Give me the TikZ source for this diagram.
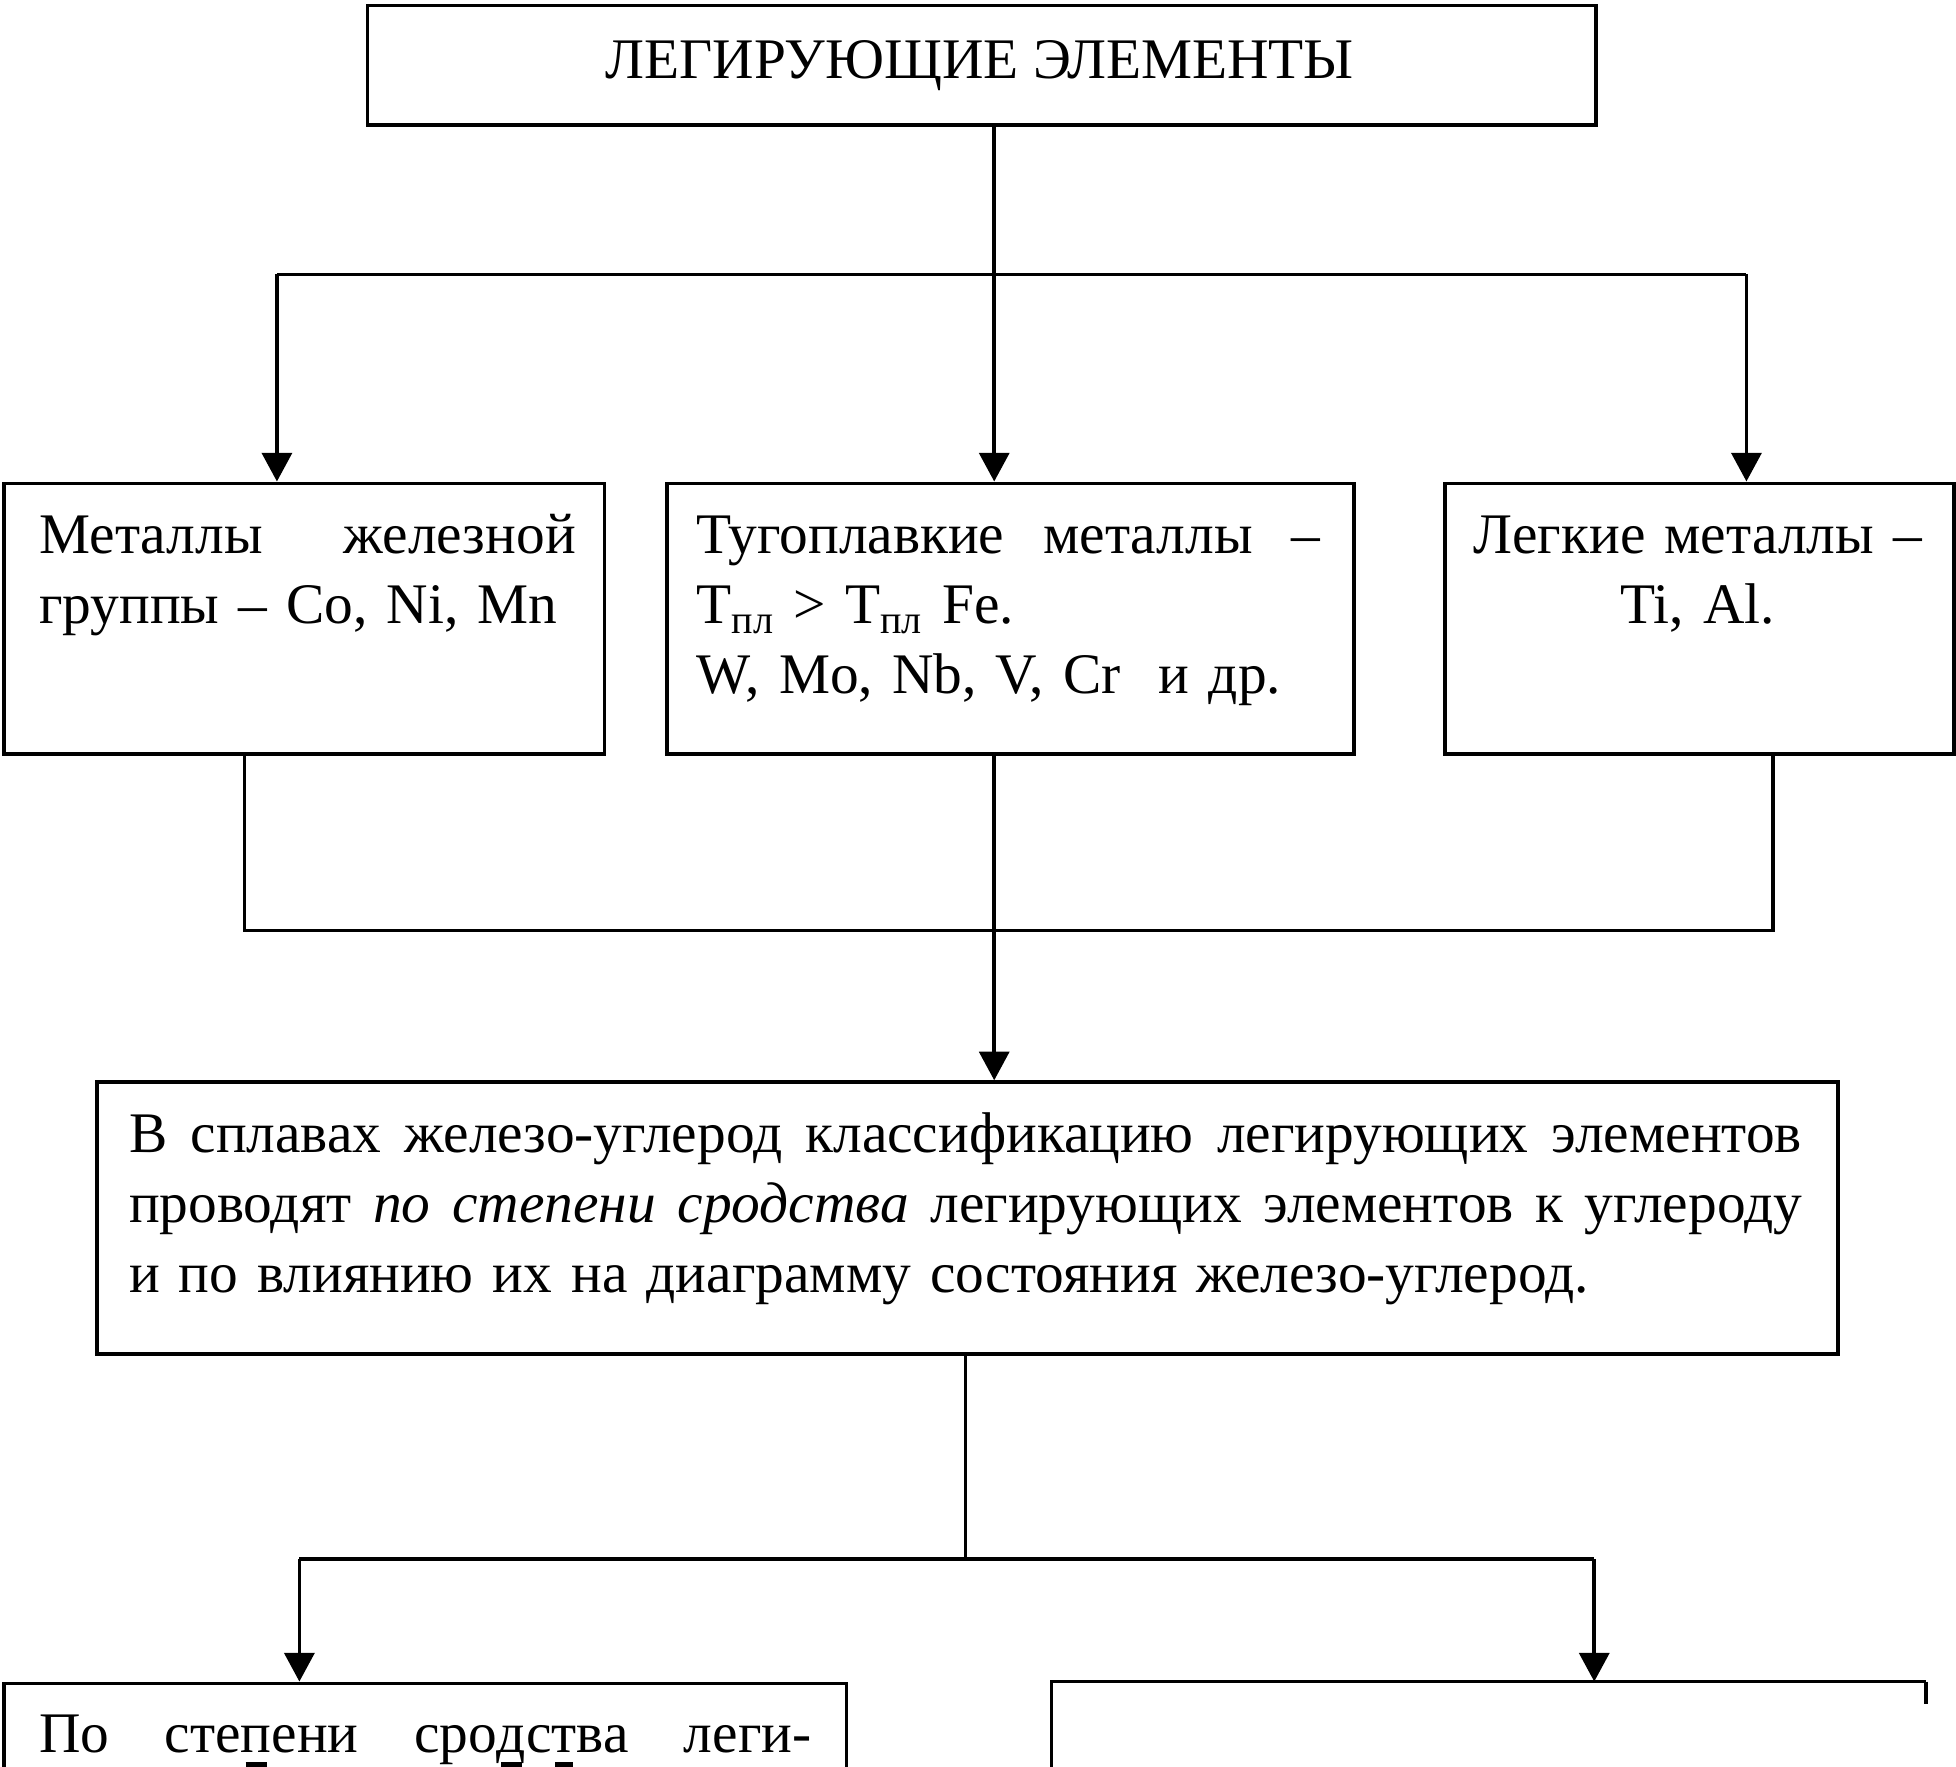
\documentclass[tikz,border=0pt]{standalone}
\usepackage{fontspec}
\setmainfont{Liberation Serif}
\usetikzlibrary{arrows.meta,calc}
\newcommand\jline[1]{\makebox[\linewidth][s]{\spaceskip=0pt\xspaceskip=0pt #1}}
\newcommand\stressmk[1]{\setbox0\hbox{#1}\rlap{\hbox to \wd0{\hss\vrule width 0.7\wd0 height -3.75pt depth 6pt\hss}}\box0}
\begin{document}
\begin{tikzpicture}[x=0.5pt,y=-0.5pt,line width=1.5pt,
  box/.style={draw,rectangle,inner sep=0pt,anchor=north west},
  txt/.style={inner sep=0pt,font=\fontsize{23}{28}\selectfont,anchor=base west,align=left},
  arr/.style={-{Triangle[width=12pt,length=11.5pt]}}]
\useasboundingbox (0,0) rectangle (1568,1416);
\clip (0,0) rectangle (1568,1416);
% boxes
\node[box,minimum width=492.5pt,minimum height=48pt] (top) at (293,3) {};
\node[txt,anchor=base] (toptxt) at (785.5,63) {ЛЕГИРУЮЩИЕ ЭЛЕМЕНТЫ};
\node[box,minimum width=240.5pt,minimum height=108.5pt] (b1) at (2,386) {};
\node[box,minimum width=275.5pt,minimum height=108.5pt] (b2) at (533,386) {};
\node[box,minimum width=204pt,minimum height=108.5pt] (b3) at (1157,386) {};
\node[box,minimum width=698pt,minimum height=109pt] (b4) at (76,866) {};
\node[box,minimum width=337.5pt,minimum height=100pt] (b5) at (2,1348) {};
\node[box,draw=none,minimum width=349pt,minimum height=100pt] (b6) at (843,1348) {};
\draw (b6.south west) -- (b6.north west) -- (b6.north east);
\draw (b6.north east) -- ++(0,18);
% texts
\node[txt,text width=215pt] (t1) at (30,444) {\jline{Металлы железной}\\группы – Co, Ni, Mn};
\node[txt,text width=250pt] (t2) at (557,444) {\jline{Тугоплавкие металлы –}\\Т\textsubscript{пл} > Т\textsubscript{пл} Fe.\\W, Mo, Nb, V, Cr\ \ и др.};
\node[txt,anchor=base,text width=192pt,align=center] (t3) at (1361,444) {Легкие металлы –\\Ti, Al.};
\node[txt,text width=670.5pt] (t4) at (102,924) {\jline{В сплавах железо-углерод классификацию легирующих элементов}\\\jline{проводят \textit{по степени сродства} легирующих элементов к углероду}\\и по влиянию их на диаграмму состояния железо-углерод.};
\node[txt,text width=309.5pt] (t5) at (30,1405) {\jline{По сте\stressmk{п}ени сро\stressmk{д}с\stressmk{т}ва леги-}};
% upper connectors
\coordinate (j1) at (797,220);
\coordinate (jl) at (222,220);
\coordinate (jr) at (1400,220);
\draw (top.south -| j1) -- (j1);
\draw (jl) -- (jr);
\draw[arr] (jl) -- (jl |- b1.north);
\draw[arr] (j1) -- (j1 |- b2.north);
\draw[arr] (jr) -- (jr |- b3.north);
% middle connectors
\coordinate (k1) at (196,746);
\coordinate (k2) at (797,746);
\coordinate (k3) at (1421,746);
\draw (b1.south -| k1) -- (k1) -- (k3) -- (b3.south -| k3);
\draw (b2.south -| k2) -- (k2);
\draw[arr] (k2) -- (k2 |- b4.north);
% lower connectors
\coordinate (m) at (774,1250);
\coordinate (ml) at (240,1250);
\coordinate (mr) at (1278,1250);
\draw (b4.south -| m) -- (m);
\draw (ml) -- (mr);
\draw[arr] (ml) -- (ml |- b5.north);
\draw[arr] (mr) -- (mr |- b6.north);
\end{tikzpicture}
\end{document}
